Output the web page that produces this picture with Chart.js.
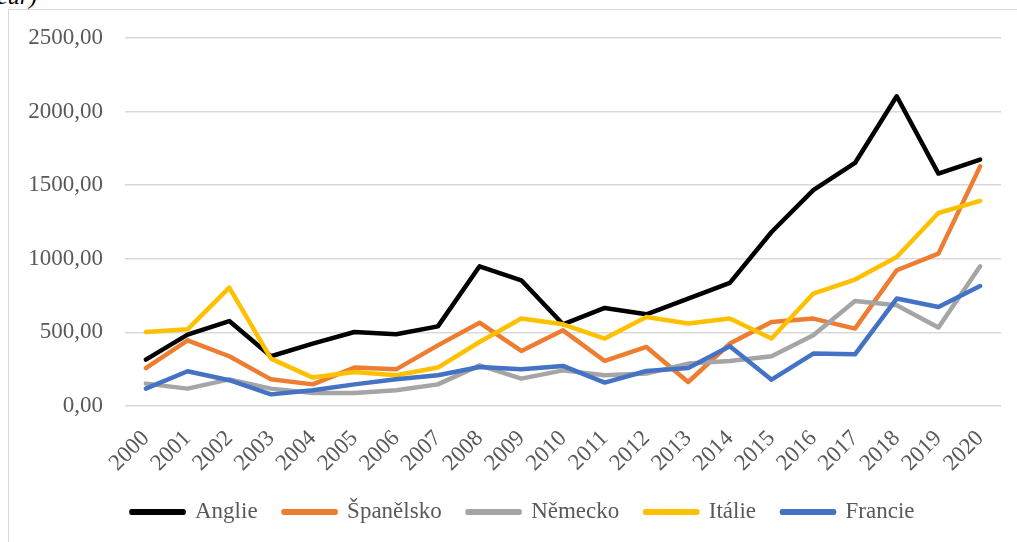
<!DOCTYPE html>
<html lang="cs">
<head>
<meta charset="utf-8">
<title>Graf</title>
<script src="https://cdn.jsdelivr.net/npm/chart.js@4/dist/chart.umd.min.js"></script>
<style>
    html, body { margin: 0; padding: 0; background: #fff; overflow: hidden; }
    body { width: 1017px; height: 542px; position: relative; }
    .caption {
        position: absolute; left: -3px; top: -16px;
        font: italic 24px "Liberation Serif", "Times New Roman", serif;
        color: #000; line-height: 24px; white-space: nowrap;
    }
    .frame {
        position: absolute; left: 8px; top: 9px;
        width: 1030px; height: 540px;
        border-left: 1px solid #d9d9d9; border-top: 1px solid #d9d9d9;
    }
    .frame canvas { display: block; }
</style>
</head>
<body>
<div class="caption">eur)</div>
<div class="frame"><canvas id="chart" width="1030" height="532"></canvas></div>
<script>
// values (rok 2000-2020)
const years = ['2000', '2001', '2002', '2003', '2004', '2005', '2006', '2007', '2008', '2009', '2010',
               '2011', '2012', '2013', '2014', '2015', '2016', '2017', '2018', '2019', '2020'];
const anglie    = [315, 485, 577, 338, 424, 503, 487, 541, 949, 854, 555, 666, 623, 730, 836, 1182, 1466, 1651, 2104, 1579, 1674];
const spanelsko = [258, 446, 338, 181, 147, 261, 249, 412, 566, 374, 514, 306, 401, 163, 424, 571, 594, 526, 922, 1035, 1628];
const nemecko   = [152, 118, 181, 118, 88, 88, 107, 147, 276, 186, 242, 209, 220, 288, 306, 338, 480, 713, 684, 533, 949];
const italie    = [503, 521, 804, 322, 193, 231, 209, 261, 435, 594, 555, 458, 605, 560, 594, 458, 764, 859, 1012, 1311, 1393];
const francie   = [118, 236, 175, 79, 107, 147, 181, 209, 265, 249, 272, 159, 238, 258, 406, 179, 356, 351, 730, 673, 815];
const yTicks    = [0, 500, 1000, 1500, 2000, 2500];

const FONT = '"Liberation Serif", "Times New Roman", serif';
const TEXT = '#595959';
const GRID = '#d9d9d9';

function serie(label, data, color, order) {
    return {
        label: label,
        data: data,
        borderColor: color,
        backgroundColor: color,
        borderWidth: 4.5,
        borderCapStyle: 'round',
        borderJoinStyle: 'round',
        pointRadius: 0,
        tension: 0,
        fill: false,
        order: order   // later series drawn on top, like Excel
    };
}

// scales add label overhang to the layout; the plot box is fixed here instead
function noOverhang(scale) {
    scale.paddingTop = 0;
    scale.paddingBottom = 0;
    scale.paddingLeft = 0;
    scale.paddingRight = 0;
}

Chart.defaults.font.family = FONT;
Chart.defaults.color = TEXT;

new Chart(document.getElementById('chart'), {
    type: 'line',
    data: {
        labels: years,
        datasets: [
            serie('Anglie', anglie, '#000000', 5),
            serie('Španělsko', spanelsko, '#ED7D31', 4),
            serie('Německo', nemecko, '#A5A5A5', 3),
            serie('Itálie', italie, '#FFC000', 2),
            serie('Francie', francie, '#4472C4', 1)
        ]
    },
    options: {
        responsive: false,
        animation: false,
        layout: {
            autoPadding: false,
            padding: { top: 28, right: 2, left: 0, bottom: 8.5 }
        },
        plugins: {
            legend: {
                position: 'bottom',
                labels: {
                    boxWidth: 52,
                    boxHeight: 1.5,
                    padding: 26,
                    color: TEXT,
                    font: { size: 23 },
                    sort: function (a, b) { return a.datasetIndex - b.datasetIndex; }
                }
            },
            tooltip: { enabled: false }
        },
        scales: {
            x: {
                offset: true,
                grid: { display: false, drawTicks: false, offset: false },
                border: { display: false },
                ticks: {
                    autoSkip: false,
                    minRotation: 45,
                    maxRotation: 45,
                    padding: 19,
                    color: TEXT,
                    font: { size: 23 }
                },
                afterFit: function (scale) {
                    noOverhang(scale);
                    scale.height = 68.5;
                }
            },
            y: {
                min: 0,
                max: 2500,
                afterBuildTicks: function (scale) {
                    scale.ticks = yTicks.map(function (v) { return { value: v }; });
                },
                grid: { color: GRID, lineWidth: 1.5, drawTicks: false },
                border: { display: false },
                ticks: {
                    padding: 22,
                    color: TEXT,
                    font: { size: 23 },
                    callback: function (v) { return Number(v).toFixed(2).replace('.', ','); }
                },
                afterFit: function (scale) {
                    noOverhang(scale);
                    scale.width = 116;
                }
            },
            // empty right axis only to keep the plot narrower than the legend box
            spacer: {
                position: 'right',
                grid: { display: false },
                border: { display: false },
                ticks: { display: false },
                afterFit: function (scale) {
                    noOverhang(scale);
                    scale.width = 36;
                }
            }
        }
    }
});
</script>
</body>
</html>
